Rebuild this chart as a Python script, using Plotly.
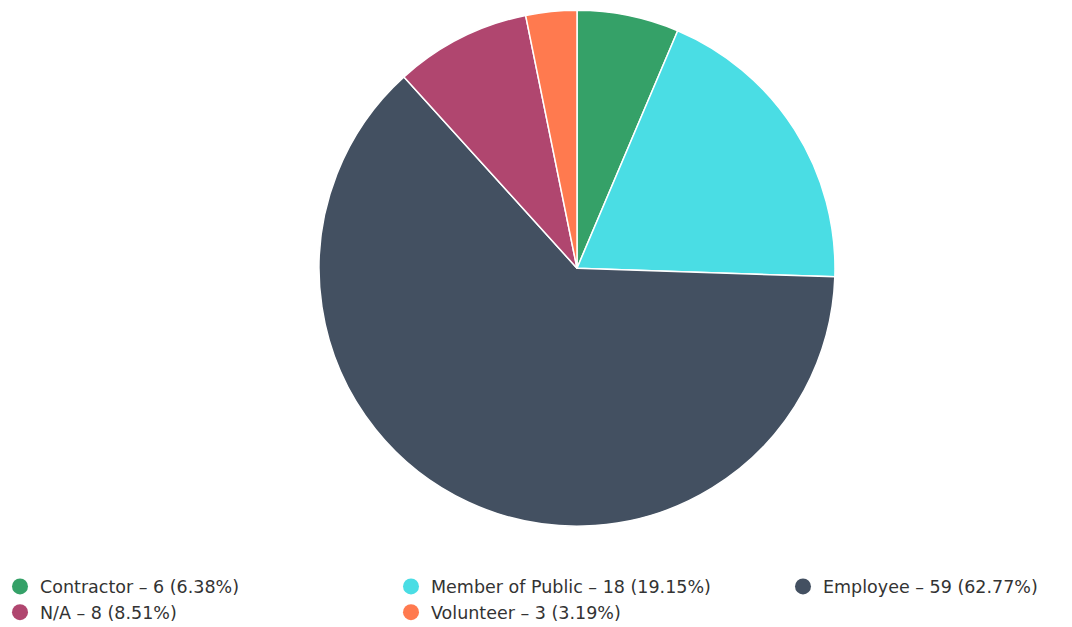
import plotly.graph_objects as go

# Incident involvement by person type
categories = ["Contractor", "Member of Public", "Employee", "N/A", "Volunteer"]
counts = [6, 18, 59, 8, 3]
colors = ["#35a168", "#4adde4", "#435061", "#b0466f", "#ff7a4f"]
# legend column for each category (three columns under the pie)
legend_cols = ["legend", "legend2", "legend3", "legend", "legend2"]

total = sum(counts)
legend_labels = [f"{c} – {n} ({n / total * 100:.2f}%)" for c, n in zip(categories, counts)]

fig = go.Figure()

fig.add_trace(go.Pie(
    labels=categories,
    values=counts,
    marker=dict(colors=colors, line=dict(color="white", width=1.5)),
    sort=False,
    direction="clockwise",
    rotation=0,
    textinfo="none",
    hoverinfo="label+value+percent",
    showlegend=False,
    domain=dict(x=[0.2976, 0.7789], y=[0.0740, 0.9824]),
))

# Legend entries with round markers
for lab, col, lg in zip(legend_labels, colors, legend_cols):
    fig.add_trace(go.Scatter(
        x=[None], y=[None], mode="markers", name=lab,
        marker=dict(symbol="circle", size=16, color=col),
        hoverinfo="skip", legend=lg,
    ))

legend_font = dict(family="DejaVu Sans, sans-serif", size=17.5, color="#333333")
legend_common = dict(
    orientation="v", yref="container", yanchor="top", y=1 - 568.5 / 627,
    xanchor="left", traceorder="normal", itemsizing="trace", font=legend_font,
    tracegroupgap=0, bgcolor="rgba(0,0,0,0)",
)

fig.update_layout(
    width=1072, height=627,
    margin=dict(l=0, r=0, t=0, b=0),
    paper_bgcolor="white", plot_bgcolor="white",
    font=legend_font,
    xaxis=dict(visible=False), yaxis=dict(visible=False),
    legend=dict(x=0.0, **legend_common),
    legend2=dict(x=391 / 1072, **legend_common),
    legend3=dict(x=783 / 1072, **legend_common),
)

fig.write_html("out.html")
